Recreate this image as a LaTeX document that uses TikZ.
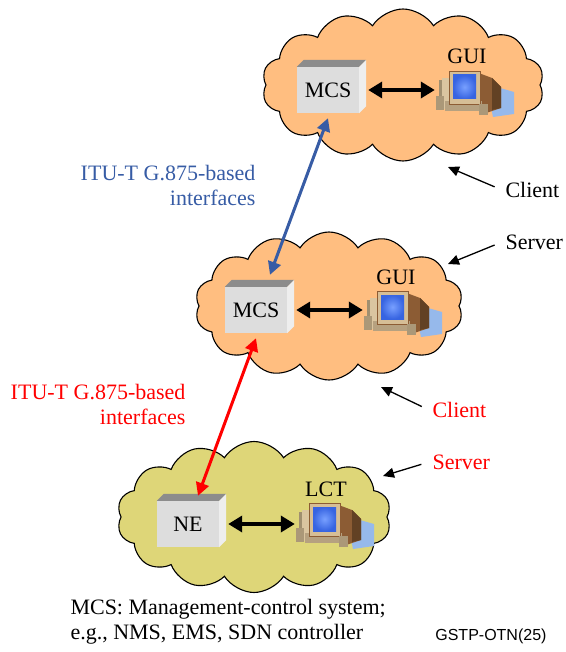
\documentclass[tikz,border=0pt]{standalone}
\usepackage{fontspec}
\setmainfont{Liberation Serif}
\newfontfamily\figsans{Liberation Sans}
\usetikzlibrary{shapes.symbols,arrows.meta,calc}

\definecolor{cloudorange}{RGB}{255,190,128}
\definecolor{cloudolive}{RGB}{222,214,120}
\definecolor{itublue}{RGB}{55,92,165}
\definecolor{boxfront}{RGB}{221,221,221}
\definecolor{boxtop}{RGB}{140,140,140}
\definecolor{boxside}{RGB}{238,238,238}
\definecolor{pcbeige}{RGB}{214,190,150}
\definecolor{pcbrown}{RGB}{140,92,52}
\definecolor{pcshadow}{RGB}{150,185,235}
\definecolor{pcscreen}{RGB}{55,100,225}
\definecolor{pcglow}{RGB}{120,160,255}

\tikzset{
  netcloud/.style={cloud, cloud puffs=14, cloud puff arc=115, aspect=1.85,
    draw=black, line width=1.1pt, inner sep=0pt},
  mgmtbox/.style={fill=boxfront, minimum width=62pt, minimum height=46pt, inner sep=0pt},
  pcspot/.style={minimum width=80pt, minimum height=56pt, inner sep=0pt},
  dblarrow/.style={{Triangle[length=14pt,width=16pt]}-{Triangle[length=14pt,width=16pt]},
    line width=3.5pt, shorten <=9pt, shorten >=1pt},
  ifarrow/.style={{Triangle[length=13pt,width=13pt]}-{Triangle[length=13pt,width=13pt]},
    line width=3pt},
  pointer/.style={-{Triangle[length=11pt,width=10pt]}, line width=1.3pt, shorten <=8pt},
  pcicon/.pic={
    \begin{scope}[shift={(-40,-28)}]
      % shadow behind the monitor
      \fill[pcshadow] (50,18) -- (78,26) -- (78,48) -- (57,51) -- cycle;
      % monitor housing
      \fill[pcbrown] (40,6) -- (56,12) -- (65,21) -- (65,42) -- (50,47) -- (40,42) -- cycle;
      \fill[pcbrown!70!black] (56,12) -- (65,21) -- (65,42) -- (56,44) -- cycle;
      % tower
      \fill[pcbeige!75!black] (3,14) rectangle (8,43);
      \fill[pcbeige!90!white] (6,12) rectangle (16,43);
      % base
      \fill[pcbeige!85!black] (9,35) rectangle (46,45);
      % bezel and screen
      \fill[pcbeige] (13,5) rectangle (44,38);
      \draw[pcbrown, line width=0.6pt] (13,5) rectangle (44,38);
      \shade[inner color=pcglow, outer color=pcscreen] (17,9) rectangle (40,33);
      % speakers
      \fill[pcbeige!80!black] (0,30) rectangle (8,44);
      \fill[pcbeige!80!black] (43,38) rectangle (52,49);
    \end{scope}
  }
}

\begin{document}
\begin{tikzpicture}[x=1pt, y=-1pt, font=\fontsize{22}{25}\selectfont]
  \useasboundingbox (0,0) rectangle (565,652);

  % Nubes
  \node[netcloud, fill=cloudorange, minimum width=282pt, minimum height=152pt] (topcloud) at (403,85) {};
  \node[netcloud, fill=cloudorange, minimum width=268pt, minimum height=148pt] (midcloud) at (329,306) {};
  \node[netcloud, fill=cloudolive, minimum width=274pt, minimum height=151pt] (lowcloud) at (254,517) {};

  % Cajas de gestion
  \node[mgmtbox] (mcsA) at (328,90) {MCS};
  \node[mgmtbox] (mcsB) at (256,310) {MCS};
  \node[mgmtbox] (ne) at (188,524) {NE};
  \foreach \b in {mcsA,mcsB,ne} {
    \fill[boxtop] (\b.north west) -- ++(7,-7) -- ($(\b.north east)+(7,-7)$) -- (\b.north east) -- cycle;
    \fill[boxside] (\b.north east) -- ++(7,-7) -- ($(\b.south east)+(7,-7)$) -- (\b.south east) -- cycle;
  }

  % Terminales
  \node[pcspot] (guiA) at (476,94) {};
  \node[pcspot] (guiB) at (404,314) {};
  \node[pcspot] (lct) at (336,526) {};
  \pic at (guiA) {pcicon};
  \pic at (guiB) {pcicon};
  \pic at (lct) {pcicon};
  \node (guiAname) at (467,56) {GUI};
  \node (guiBname) at (396,277) {GUI};
  \node (lctname) at (326,489) {LCT};

  \draw[dblarrow] (mcsA.east) -- (mcsA.east -| guiA.west);
  \draw[dblarrow] (mcsB.east) -- (mcsB.east -| guiB.west);
  \draw[dblarrow] (ne.east) -- (ne.east -| lct.west);

  % Interfaces G.875
  \draw[ifarrow, itublue] ([yshift=-5pt]mcsA.south) -- ([shift={(14pt,12pt)}]mcsB.north);
  \draw[ifarrow, red] ([yshift=-5pt]mcsB.south) -- ([shift={(10pt,5pt)}]ne.north);
  \node[itublue, align=right, anchor=east] (ifblue) at (259,185) {ITU-T G.875-based\\interfaces};
  \node[red, align=right, anchor=east] (ifred) at (189,404) {ITU-T G.875-based\\interfaces};

  % Cliente / servidor
  \node[anchor=west] (clientA) at (502,190) {Client};
  \node[anchor=west] (serverA) at (502,242) {Server};
  \node[red, anchor=west] (clientB) at (429,410) {Client};
  \node[red, anchor=west] (serverB) at (429,462) {Server};
  \coordinate (clientAtip) at (448,167);
  \coordinate (serverAtip) at (448,264);
  \coordinate (clientBtip) at (381,387);
  \coordinate (serverBtip) at (383,476);
  \draw[pointer] (clientA.west) -- (clientAtip);
  \draw[pointer] (serverA.west) -- (serverAtip);
  \draw[pointer] (clientB.west) -- (clientBtip);
  \draw[pointer] (serverB.west) -- (serverBtip);

  % Leyenda
  \node[anchor=west, align=left] (legend) at (67,622) {MCS: Management-control system;\\e.g., NMS, EMS, SDN controller};
  \node[anchor=east, font=\figsans\fontsize{16}{18}\selectfont] (figid) at (550,636) {GSTP-OTN(25)};
\end{tikzpicture}
\end{document}
